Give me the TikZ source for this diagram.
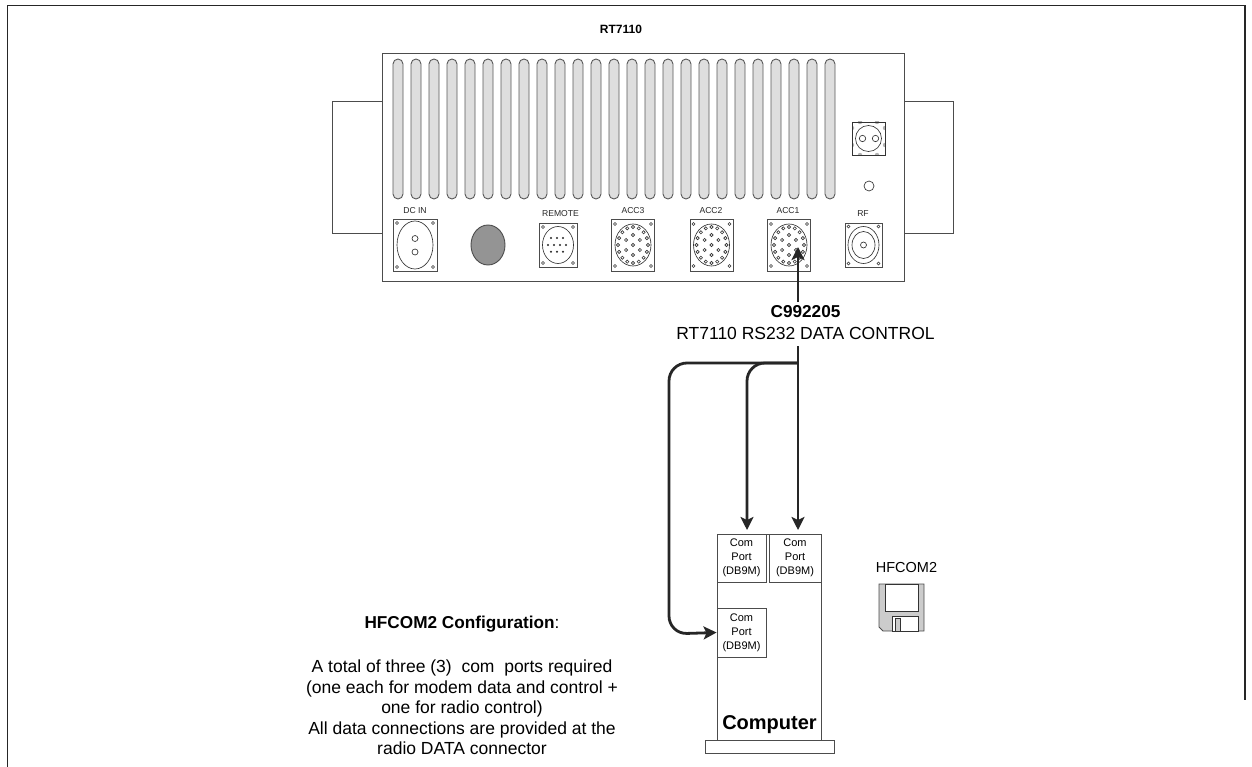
\documentclass[tikz,border=0pt]{standalone}
\usepackage{fontspec}
\setmainfont{Liberation Sans}
\usetikzlibrary{arrows.meta}
\tikzset{
  lin/.style={draw=black!70,line width=0.9pt},
  thin part/.style={draw=black!80,line width=0.65pt},
  slot/.style={draw=black!65,fill=black!13,line width=0.9pt,rounded corners=5pt},
  cable/.style={draw=black!85,line width=2.8pt,rounded corners=18pt},
  tipped/.style={-{Stealth[length=13pt,width=13pt,inset=3pt]}},
  lab/.style={inner sep=0pt,align=center,font=\fontsize{17.5}{20.4}\selectfont},
  small/.style={inner sep=0pt,font=\fontsize{8.6}{10}\selectfont,text=black!85},
  port/.style={lin,fill=white,inner sep=0pt,align=center,font=\fontsize{11}{14}\selectfont},
}
\newcommand{\shellbox}[5]{%
  \draw[lin] (#1,#2) rectangle (#3,#4);
  \foreach \px/\py in {#1+#5/#2+#5,#3-#5/#2+#5,#1+#5/#4-#5,#3-#5/#4-#5}
    \draw[thin part] ({\px},{\py}) circle (1.5);
}
\newcommand{\acc}[2]{%
  \draw[lin] (#1-21.5,#2-26) rectangle (#1+21.5,#2+26);
  \foreach \sx/\sy in {-18/-21,18/-21,-18/21,18/21}
    \draw[thin part] ({#1+\sx},{#2+\sy}) circle (1.5);
  \draw[thin part] (#1,#2) ellipse (18 and 21);
  \foreach \a in {0,22.5,...,337.5}
    \draw[thin part] ({#1+15*cos(\a)},{#2+18*sin(\a)}) circle (1.6);
  \foreach \a in {30,90,...,330}
    \draw[thin part] ({#1+8*cos(\a)},{#2+10*sin(\a)}) circle (1.6);
  \draw[thin part] (#1,#2) circle (1.6);
}
\begin{document}
\begin{tikzpicture}[x=1pt,y=-1pt]
\useasboundingbox (0,0) rectangle (1252,767);
\coordinate (fbl) at (7.5,767);\coordinate (ftl) at (7.5,5.7);\coordinate (ftr) at (1245,5.7);\coordinate (fbr) at (1245,700);
\draw[draw=black!85,line width=1.2pt] (fbl) -- (ftl) -- (ftr) -- (fbr);
\node[inner sep=0pt,font=\bfseries\fontsize{12}{14}\selectfont] (title) at (621,29) {RT7110};
% chassis
\draw[lin] (382,101.5) -- (332,101.5) -- (332,233) -- (382,233);
\draw[lin] (904,101.5) -- (953,101.5) -- (953,233) -- (904,233);
\draw[lin,fill=white] (382,53) rectangle (904,281);
\foreach \i in {0,...,24}
  \draw[slot] ({398+18*\i-5},59) rectangle ({398+18*\i+5},199);
% grounding stud
\begin{scope}
\clip (852,122) rectangle (885,155);
\foreach \ex/\ey in {852/128,852/145,885/128,885/145,860/122,877/122,860/155,877/155}
  \fill[black!30] (\ex,\ey) circle (2.2);
\end{scope}
\draw[thin part] (852,122) rectangle (885,155);
\draw[thin part,fill=white] (868.5,138.5) circle (13);
\draw[thin part] (862.5,138.5) circle (3.2);
\draw[thin part] (875.5,138.5) circle (3.2);
\draw[thin part] (869,186) circle (5);
% labels
\node[small] (ldc) at (415,210.5) {DC IN};
\node[small] (lrem) at (560.5,214) {REMOTE};
\node[small] (la3) at (633,210.5) {ACC3};
\node[small] (la2) at (711,210.5) {ACC2};
\node[small] (la1) at (788,210.5) {ACC1};
\node[small] (lrf) at (863,214) {RF};
% DC IN
\shellbox{393}{219}{437}{271}{4}
\draw[thin part] (415,245) ellipse (18 and 24);
\draw[thin part] (415,238.5) circle (3);
\draw[thin part] (415,252) circle (3);
% blank
\draw[lin,fill=black!42] (488,245) ellipse (17 and 20);
% REMOTE
\shellbox{539}{223}{577}{267}{4}
\draw[thin part] (558,245) ellipse (15.5 and 18.5);
\foreach \dx in {-6,0,6} {\fill[black!85] ({557+\dx},238) circle (1.1);\fill[black!85] ({557+\dx},251.7) circle (1.1);}
\foreach \dx in {-9,-3,3,9} \fill[black!85] ({557+\dx},245) circle (1.1);
% ACC
\acc{633}{245}
\acc{711.5}{245}
\acc{789}{245}
% RF
\shellbox{845}{223}{882}{267}{3.5}
\draw[thin part] (863.5,245) ellipse (15.5 and 18.5);
\draw[thin part] (863.5,245) ellipse (11.5 and 13.5);
\draw[thin part] (863.5,245) circle (3);
% cable text
\node[lab,font=\bfseries\fontsize{17.2}{20}\selectfont] (code) at (805.5,312) {C992205};
\node[lab] (desc) at (805.5,333) {RT7110 RS232 DATA CONTROL};
% computer
\draw[lin] (717,534) rectangle (821,740);
\node[draw=none,inner sep=0pt,font=\bfseries\fontsize{20}{23}\selectfont] (comp) at (769.5,725) {Computer};
\draw[lin,fill=white] (705,740) rectangle (834,753);
\node[port,minimum width=49pt,minimum height=48pt] (p1) at (741.5,558) {Com\\Port\\(DB9M)};
\node[port,minimum width=52pt,minimum height=48pt] (p2) at (795,558) {Com\\Port\\(DB9M)};
\node[port,minimum width=49pt,minimum height=49pt] (p3) at (741.5,632.5) {Com\\Port\\(DB9M)};
% cables
\coordinate (acctip) at (798,247);
\coordinate (cabtop) at (798,302);
\coordinate (bus) at (798,346);
\coordinate (jun) at (798,363);
\draw[cable,tipped] (cabtop) -- (acctip);
\draw[cable,tipped] (bus) -- (798,530);
\draw[cable,tipped] (jun) -- (747,363) -- (747,530);
\draw[cable,tipped] (jun) -- (669,363) -- (669,634) -- (p3.west);
% HFCOM2
\node[lab,font=\fontsize{14.5}{17}\selectfont] (hf) at (906.5,568) {HFCOM2};
\draw[lin,fill=black!20] (879,584) -- (924,584) -- (924,631) -- (883,631) -- (879,627) -- cycle;
\draw[thin part,fill=white] (885.5,584) rectangle (918,611);
\draw[thin part,fill=white] (892,616) rectangle (918,631);
\draw[thin part,fill=black!20] (895,618) rectangle (900,631);
% config text
\node[lab,font=\bfseries\fontsize{17.2}{20}\selectfont] (cfg) at (462,624) {HFCOM2 Configuration\textmd{:}};
\node[lab] (cfgb) at (462,707.5) {A total of three (3)~ com~ ports required\\(one each for modem data and control +\\one for radio control)\\All data connections are provided at the\\radio DATA connector};
\end{tikzpicture}
\end{document}
